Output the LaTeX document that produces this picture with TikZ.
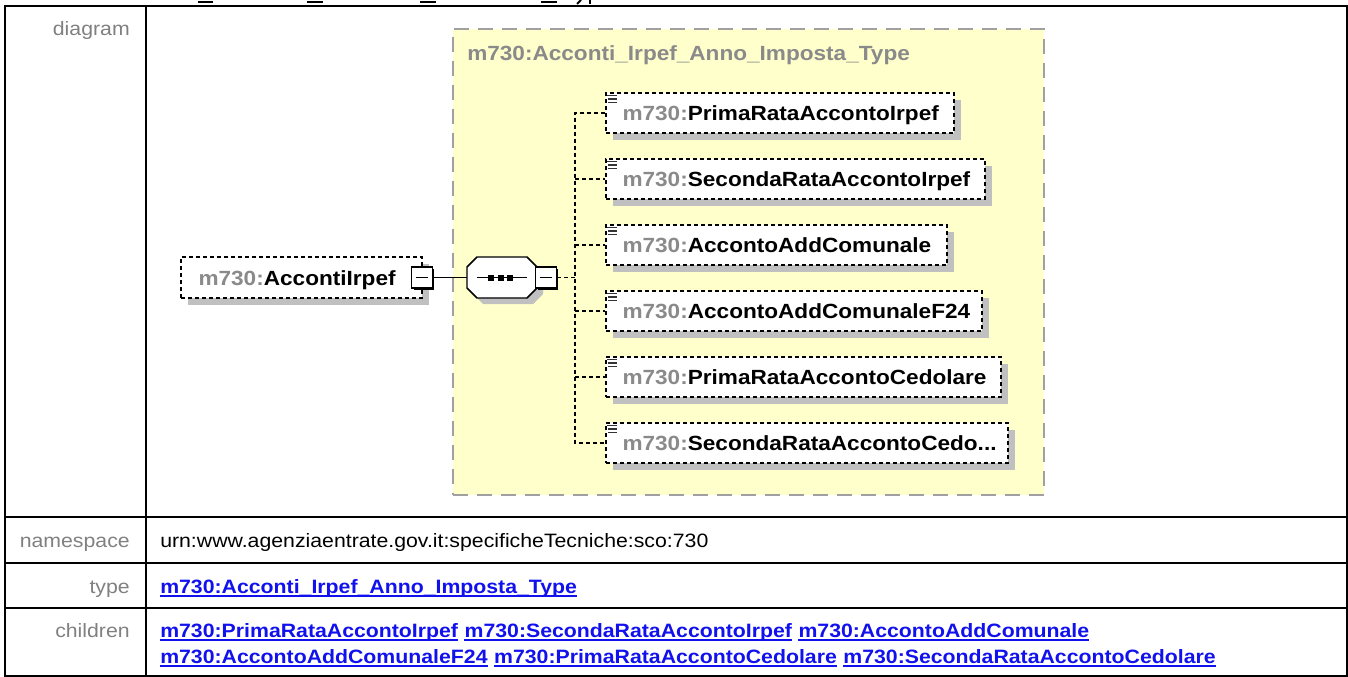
\documentclass[tikz,border=0pt]{standalone}
\usepackage{fontspec}
\setmainfont{Liberation Sans}[FakeStretch=1.1]
\usetikzlibrary{shadows,fit}
\definecolor{typefill}{HTML}{FFFFCC}
\definecolor{typeline}{HTML}{A0A0A0}
\definecolor{shadowc}{HTML}{C0C0C0}
\definecolor{prefixc}{HTML}{8A8A8A}
\definecolor{labelc}{HTML}{808080}
\definecolor{linkc}{HTML}{1111EE}
\newcommand\dfnt{\fontsize{15.4pt}{18pt}\selectfont\bfseries}
\newcommand\vfnt{\fontsize{14.5pt}{17pt}\selectfont}
\newcommand\lfnt{\fontsize{14.5pt}{17pt}\selectfont}
\newcommand\mydots{.\kern0pt.\kern0pt.}
\tikzset{
  tline/.style={line width=1.5pt, black},
  lab/.style={anchor=base east, inner sep=0, text=labelc, font=\lfnt},
  val/.style={anchor=base west, inner sep=0, font=\vfnt},
  lnk/.style={anchor=base west, inner sep=0, font=\vfnt\bfseries, text=linkc},
  uline/.style={line width=1.1pt, linkc},
  typebox/.style={draw=typeline, fill=typefill, line width=1.9pt, dash pattern=on 11.25pt off 6.75pt, inner sep=0},
  elbox/.style={draw=black, fill=white, line width=1.1pt, dash pattern=on 3pt off 2.25pt, inner sep=0,
    drop shadow={shadow xshift=5.25pt, shadow yshift=-5.25pt, fill=shadowc, opacity=1}},
  dtext/.style={anchor=base west, inner sep=0, font=\dfnt},
  btn/.style={rectangle, draw=black, fill=white, line width=1.1pt, minimum width=15.5pt, minimum height=15.75pt, inner sep=0,
    drop shadow={shadow xshift=1.5pt, shadow yshift=-1.5pt, fill=black, opacity=1},
    path picture={\draw[line width=0.9pt] ([xshift=3pt]path picture bounding box.west) -- ([xshift=-3pt]path picture bounding box.east);}},
  seqbox/.style={rectangle, inner sep=0, minimum width=52.5pt, minimum height=30.75pt},
  octo/.style={line width=1.1pt, draw=black, fill=white},
  solidc/.style={line width=1.1pt, black},
  dconn/.style={line width=1.1pt, black, dash pattern=on 3pt off 2.25pt},
  iconl/.style={line width=0.9pt, black!80}
}
\begin{document}
\begin{tikzpicture}[x=0.75pt, y=-0.75pt]
\useasboundingbox (0,0) rectangle (1348,677);
% cut-off heading marks at the top
\fill (198,1.5) rectangle (213,3.5);
\fill (307,1.5) rectangle (323,3.5);
\fill (420,1.5) rectangle (436,3.5);
\fill (541,1.5) rectangle (557,3.5);
\draw[line width=1.5pt] (581,0) -- (577,4);
\draw[line width=1.5pt] (590,0) -- (590,4);
% table
\draw[tline] (5,6) rectangle (1347,676);
\draw[tline] (146,6) -- (146,676);
\draw[tline] (5,517) -- (1347,517);
\draw[tline] (5,563) -- (1347,563);
\draw[tline] (5,608) -- (1347,608);
\node[lab] (ldiag) at (130,36) {diagram};
\node[lab] (lns) at (130,547) {namespace};
\node[lab] (ltype) at (130,593) {type};
\node[lab] (lchild) at (130,637) {children};
\node[val] (ns) at (160,547) {urn:www.agenziaentrate.gov.it:specificheTecniche:sco:730};
\node[lnk] (t1) at (160,593) {m730:Acconti\_Irpef\_Anno\_Imposta\_Type};
\node[lnk] (k1) at (160,637) {m730:PrimaRataAccontoIrpef};
\node[lnk] (k2) at ([xshift=4.5pt]k1.base east) {m730:SecondaRataAccontoIrpef};
\node[lnk] (k3) at ([xshift=4.5pt]k2.base east) {m730:AccontoAddComunale};
\node[lnk] (k4) at (160,663) {m730:AccontoAddComunaleF24};
\node[lnk] (k5) at ([xshift=4.5pt]k4.base east) {m730:PrimaRataAccontoCedolare};
\node[lnk] (k6) at ([xshift=4.5pt]k5.base east) {m730:SecondaRataAccontoCedolare};
\foreach \n in {t1,k1,k2,k3,k4,k5,k6}
  \draw[uline] ([yshift=-2.4pt]\n.base west) -- ([yshift=-2.4pt]\n.base east);
% diagram
\node[typebox, fit={(453,29) (1044,495)}] (tb) {};
\node[dtext, text=prefixc] (tbt) at (467,61) {m730:Acconti\_Irpef\_Anno\_Imposta\_Type};
\node[elbox, fit={(181,257) (422,298)}] (el) {};
\node[dtext] (elt) at ([shift={(18,7.5)}]el.west) {\textcolor{prefixc}{m730:}AccontiIrpef};
\node[btn] (b1) at (422,277.5) {};
% sequence compositor
\node[seqbox] (seq) at (502,277.5) {};
\begin{scope}[shift={(seq.center)}]
  \fill[shadowc] (-29,-4.5) -- (-19,-14.5) -- (31,-14.5) -- (41,-4.5) -- (41,16.5) -- (31,26.5) -- (-19,26.5) -- (-29,16.5) -- cycle;
  \path[octo] (-35,-10.5) -- (-25,-20.5) -- (25,-20.5) -- (35,-10.5) -- (35,10.5) -- (25,20.5) -- (-25,20.5) -- (-35,10.5) -- cycle;
  \draw[line width=0.9pt] (-25,0) -- (25,0);
  \foreach \dx in {-11,-1.5,8}
    \fill (\dx-3,-3) rectangle +(6,6);
\end{scope}
\node[btn] (b2) at (546,277.5) {};
\draw[solidc] (b1.east) -- (seq.west);
\coordinate (bus) at (575,277.5);
\draw[dconn] (b2.east) -- (bus);
\foreach \i/\t/\r/\nm in {1/93/954/PrimaRataAccontoIrpef, 2/159/985/SecondaRataAccontoIrpef,
    3/225/947/AccontoAddComunale, 4/291/982/AccontoAddComunaleF24,
    5/357/1001/PrimaRataAccontoCedolare, 6/423/1008/SecondaRataAccontoCedo\mydots}{
  \node[elbox, fit={(606,\t) (\r,\t+40)}] (c\i) {};
  \draw[iconl] ([shift={(2,3.5)}]c\i.north west) -- ++(10,0);
  \draw[iconl] ([shift={(3,6.8)}]c\i.north west) -- ++(9,0);
  \draw[iconl] ([shift={(3,10)}]c\i.north west) -- ++(9,0);
  \node[dtext] (ct\i) at ([shift={(17,7.5)}]c\i.west) {\textcolor{prefixc}{m730:}\nm};
}
\draw[dconn] (c1.west) -- (c1.west -| bus) -- (c6.west -| bus) -- (c6.west);
\foreach \i in {2,...,5}
  \draw[dconn] (c\i.west -| bus) -- (c\i.west);
\end{tikzpicture}
\end{document}
